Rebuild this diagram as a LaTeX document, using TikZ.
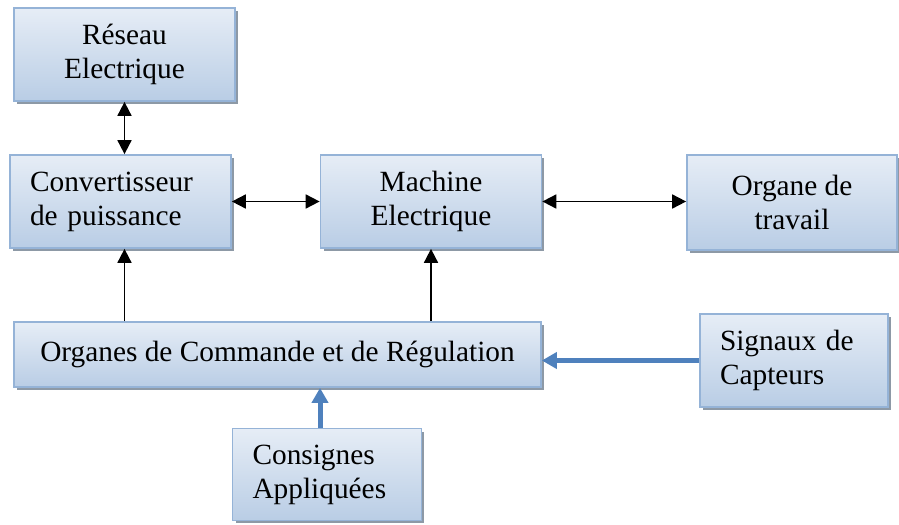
\documentclass[tikz,border=0pt]{standalone}
\usepackage{fontspec}
\setmainfont{Liberation Serif}
\usepackage{tikz}
\usetikzlibrary{positioning,arrows.meta,shadows}

\definecolor{cadre}{HTML}{95B3D7}
\definecolor{haut}{HTML}{E6EDF6}
\definecolor{fond}{HTML}{B9CDE5}
\definecolor{ombre}{HTML}{8D99A6}
\definecolor{fleche}{HTML}{4F81BD}

\tikzset{
  bloc/.style={draw=cadre, line width=1pt, top color=haut, bottom color=fond,
    drop shadow={shadow xshift=0.06cm, shadow yshift=-0.06cm, fill=ombre, opacity=1},
    font=\fontsize{16.7}{19.3}\selectfont, inner sep=0pt},
  blocg/.style={bloc, align=left, text width=#1},
  lien/.style={{Triangle[length=0.28cm,width=0.28cm]}-{Triangle[length=0.28cm,width=0.28cm]}, line width=1pt},
  montee/.style={-{Triangle[length=0.28cm,width=0.28cm]}, line width=1pt},
  signal/.style={-{Triangle[length=0.3cm,width=0.32cm]}, draw=fleche, line width=0.1cm}
}

\begin{document}
\begin{tikzpicture}[x=0.02cm, y=-0.02cm]
    \useasboundingbox (0,0) rectangle (899,524);
    % blocs
    \node[bloc, align=center, minimum width=4.42cm, minimum height=1.86cm] (reseau) at (124.5,54.5) {Réseau\\Electrique};
    \node[blocg=3.62cm, minimum width=4.42cm, minimum height=1.86cm] (conv) at (120.5,201.5) {Convertisseur\\de puissance};
    \node[bloc, align=center, minimum width=4.42cm, minimum height=1.86cm] (machine) at (431,201.5) {Machine\\Electrique};
    \node[bloc, align=center, minimum width=4.2cm, minimum height=1.9cm] (organe) at (792,202.5) {Organe de\\travail};
    \node[bloc, align=center, minimum width=10.54cm, minimum height=1.3cm] (commande) at (277.5,354.5) {Organes de Commande et de Régulation};
    \node[blocg=2.96cm, minimum width=3.76cm, minimum height=1.86cm] (signaux) at (794,360.5) {Signaux de\\Capteurs};
    \node[blocg=2.98cm, minimum width=3.78cm, minimum height=1.84cm] (consignes) at (327,474.5) {Consignes\\Appliquées};
    % liaisons
    \draw[lien] (reseau.south) -- (reseau.south |- conv.north);
    \draw[lien] (conv.east) -- (machine.west);
    \draw[lien] (machine.east) -- (machine.east -| organe.west);
    \draw[montee] ([xshift=0.08cm]conv.south |- commande.north) -- ([xshift=0.08cm]conv.south);
    \draw[montee] (machine.south |- commande.north) -- (machine.south);
    \draw[signal] (signaux.west) -- (signaux.west -| commande.east);
    \draw[signal] ([xshift=-0.14cm]consignes.north) -- ([xshift=-0.14cm]consignes.north |- commande.south);
\end{tikzpicture}
\end{document}
